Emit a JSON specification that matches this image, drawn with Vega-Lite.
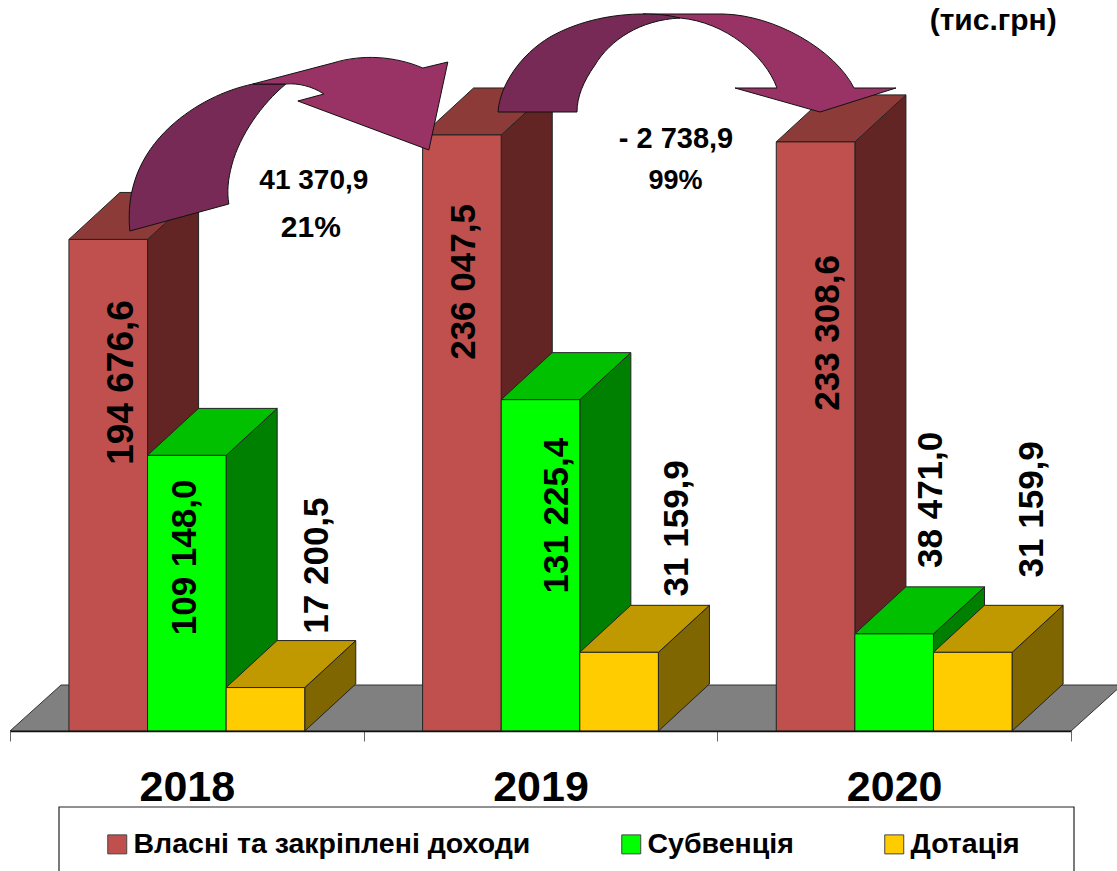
{
"$schema":"https://vega.github.io/schema/vega-lite/v6.json",
"width":1061,"height":731,
"autosize":{"type":"none"},
"padding":{"left":10,"top":0,"right":46,"bottom":140},
"background":"white",
"view":{"stroke":null},
"config":{"font":"Liberation Sans"},
"data":{"values":[
{"year":"2018","series":"Власні та закріплені доходи","value":194676.6,"label":"194 676,6"},
{"year":"2018","series":"Субвенція","value":109148.0,"label":"109 148,0"},
{"year":"2018","series":"Дотація","value":17200.5,"label":"17 200,5"},
{"year":"2019","series":"Власні та закріплені доходи","value":236047.5,"label":"236 047,5"},
{"year":"2019","series":"Субвенція","value":131225.4,"label":"131 225,4"},
{"year":"2019","series":"Дотація","value":31159.9,"label":"31 159,9"},
{"year":"2020","series":"Власні та закріплені доходи","value":233308.6,"label":"233 308,6"},
{"year":"2020","series":"Субвенція","value":38471.0,"label":"38 471,0"},
{"year":"2020","series":"Дотація","value":31159.9,"label":"31 159,9"}
]},
"encoding":{
"x":{"field":"year","type":"nominal","title":null,"sort":["2018","2019","2020"],
 "scale":{"domain":["2018","2019","2020"],"paddingInner":0,"paddingOuter":0,"round":false},
 "axis":{"title":null,"orient":"bottom","zindex":1,"domainColor":"#111111","domainWidth":1.5,"tickBand":"extent","tickSize":10,"tickColor":"#666666","tickWidth":1,"labelAngle":0,"labelFont":"Liberation Sans","labelFontWeight":"bold","labelFontSize":43,"labelColor":"black","labelPadding":25}},
"y":{"field":"value","type":"quantitative","title":null,"axis":null,"scale":{"domain":[0,289505],"nice":false,"zero":false}}
},
"resolve":{"scale":{"fill":"independent"}},
"layer":[
{"data":{"values":[{"part":"floor","year":"2019","value":0}]},
 "mark":{"type":"point","filled":true,"opacity":1,"size":4,"fill":"#808080","stroke":"#333333","strokeWidth":1,"shape":"M-530.5,0 L530.5,0 L581.5,-46 L-479.5,-46 Z"}},
{"data":{"values":[{"part":"legend box","year":"2019","value":0}]},
 "mark":{"type":"point","filled":true,"opacity":1,"size":4,"fill":"white","stroke":"#222222","strokeWidth":1.2,"shape":"M-481.5,76 L533.5,76 L533.5,160 L-481.5,160 Z"}},
{"transform":[{"calculate":"'M39.35,0 L90.35,-47 L90.35,'+(datum.value*0.002525-47)+' L39.35,'+(datum.value*0.002525)+' Z'","as":"sidePath"}],
 "mark":{"type":"point","filled":true,"opacity":1,"size":4,"stroke":"#222222","strokeWidth":1},
 "encoding":{"xOffset":{"field":"series","type":"nominal","sort":["Власні та закріплені доходи","Субвенція","Дотація"],"scale":{"domain":["Власні та закріплені доходи","Субвенція","Дотація"],"paddingInner":0,"paddingOuter":0.75,"round":false}},"shape":{"field":"sidePath","type":"nominal","scale":null,"legend":null},
 "fill":{"field":"series","type":"nominal","legend":null,"scale":{"domain":["Власні та закріплені доходи","Субвенція","Дотація"],"range":["#632523","#008000","#806600"]}}}},
{"mark":{"type":"point","filled":true,"opacity":1,"size":4,"stroke":"#222222","strokeWidth":1,"shape":"M-39.35,0 L39.35,0 L90.35,-47 L11.65,-47 Z"},
 "encoding":{"xOffset":{"field":"series","type":"nominal"},"fill":{"field":"series","type":"nominal","legend":null,"scale":{"domain":["Власні та закріплені доходи","Субвенція","Дотація"],"range":["#8C3B39","#00C000","#C09900"]}}}},
{"mark":{"type":"bar","stroke":"#222222","strokeWidth":1},
 "encoding":{"xOffset":{"field":"series","type":"nominal"},"color":{"field":"series","type":"nominal","sort":["Власні та закріплені доходи","Субвенція","Дотація"],
  "scale":{"domain":["Власні та закріплені доходи","Субвенція","Дотація"],"range":["#C0504D","#00FF00","#FFCC00"]},
  "legend":{"title":null,"orient":"none","legendX":93,"legendY":830,"direction":"horizontal","columns":3,"columnPadding":86,"padding":0,"symbolType":"square","symbolSize":360,"symbolStrokeColor":"#444444","symbolStrokeWidth":1,"symbolOpacity":1,"labelFont":"Liberation Sans","labelFontWeight":"bold","labelFontSize":28.5,"labelColor":"black","labelOffset":2,"labelLimit":600}}}},
{"data":{"values":[{"part":"arrow 2018-2019 tail","year":"2018","value":200000}]},
 "mark":{"type":"point","filled":true,"opacity":1,"size":4,"fill":"#772A55","stroke":"#111111","strokeWidth":1,"shape":"M-57,5 C-61,-36 -47,-71 -17,-99 C8,-122 38,-136 66,-142 L99,-142 C75,-122 53,-91 45,-61 C41,-46 40,-34 42,-22 Z"}},
{"data":{"values":[{"part":"arrow 2018-2019 head","year":"2018","value":200000}]},
 "mark":{"type":"point","filled":true,"opacity":1,"size":4,"fill":"#993366","stroke":"#111111","strokeWidth":1,"shape":"M66,-142 L146,-163 C175,-172 208,-170 236,-158 L261,-164 L242,-76 L111,-125 L137,-132 C125,-140 111,-143 99,-142 Z"}},
{"data":{"values":[{"part":"arrow 2019-2020 head","year":"2019","value":280000}]},
 "mark":{"type":"point","filled":true,"opacity":1,"size":4,"fill":"#993366","stroke":"#111111","strokeWidth":1,"shape":"M102.5,-10 L182.5,-10 C234.5,-9 294.5,26 313.5,64 L355.5,64 L279.5,88 L194.5,64 L236.5,64 C224.5,31 184.5,-2 139.5,-6 Z"}},
{"data":{"values":[{"part":"arrow 2019-2020 tail","year":"2019","value":280000}]},
 "mark":{"type":"point","filled":true,"opacity":1,"size":4,"fill":"#772A55","stroke":"#111111","strokeWidth":1,"shape":"M-42.5,88 C-40.5,61 -20.5,31 9.5,13 C39.5,-4 74.5,-10 102.5,-10 C117.5,-10 127.5,-9 139.5,-6 C99.5,-4 69.5,16 54.5,41 C42.5,58 36.5,73 36.5,88 Z"}},
{"transform":[{"filter":"datum.label=='194 676,6'"}],"mark":{"type":"text","angle":270,"font":"Liberation Sans","fontWeight":"bold","fontSize":37,"align":"center","baseline":"middle","dx":-143,"dy":14},"encoding":{"xOffset":{"field":"series","type":"nominal"},"text":{"field":"label"}}},
{"transform":[{"filter":"datum.label=='109 148,0'"}],"mark":{"type":"text","angle":270,"font":"Liberation Sans","fontWeight":"bold","fontSize":35,"align":"center","baseline":"middle","dx":-102,"dy":-2},"encoding":{"xOffset":{"field":"series","type":"nominal"},"text":{"field":"label"}}},
{"transform":[{"filter":"datum.label=='17 200,5'"}],"mark":{"type":"text","angle":270,"font":"Liberation Sans","fontWeight":"bold","fontSize":35,"align":"center","baseline":"middle","dx":122,"dy":52},"encoding":{"xOffset":{"field":"series","type":"nominal"},"text":{"field":"label"}}},
{"transform":[{"filter":"datum.label=='236 047,5'"}],"mark":{"type":"text","angle":270,"font":"Liberation Sans","fontWeight":"bold","fontSize":35,"align":"center","baseline":"middle","dx":-147,"dy":2},"encoding":{"xOffset":{"field":"series","type":"nominal"},"text":{"field":"label"}}},
{"transform":[{"filter":"datum.label=='131 225,4'"}],"mark":{"type":"text","angle":270,"font":"Liberation Sans","fontWeight":"bold","fontSize":35,"align":"center","baseline":"middle","dx":-116,"dy":16},"encoding":{"xOffset":{"field":"series","type":"nominal"},"text":{"field":"label"}}},
{"transform":[{"filter":"datum.label=='31 159,9' && datum.year=='2019'"}],"mark":{"type":"text","angle":270,"font":"Liberation Sans","fontWeight":"bold","fontSize":35,"align":"center","baseline":"middle","dx":124,"dy":58},"encoding":{"xOffset":{"field":"series","type":"nominal"},"text":{"field":"label"}}},
{"transform":[{"filter":"datum.label=='233 308,6'"}],"mark":{"type":"text","angle":270,"font":"Liberation Sans","fontWeight":"bold","fontSize":35,"align":"center","baseline":"middle","dx":-191,"dy":12},"encoding":{"xOffset":{"field":"series","type":"nominal"},"text":{"field":"label"}}},
{"transform":[{"filter":"datum.label=='38 471,0'"}],"mark":{"type":"text","angle":270,"font":"Liberation Sans","fontWeight":"bold","fontSize":35,"align":"center","baseline":"middle","dx":134,"dy":37},"encoding":{"xOffset":{"field":"series","type":"nominal"},"text":{"field":"label"}}},
{"transform":[{"filter":"datum.label=='31 159,9' && datum.year=='2020'"}],"mark":{"type":"text","angle":270,"font":"Liberation Sans","fontWeight":"bold","fontSize":35,"align":"center","baseline":"middle","dx":143,"dy":59},"encoding":{"xOffset":{"field":"series","type":"nominal"},"text":{"field":"label"}}},
{"data":{"values":[{"label":"41 370,9","year":"2018","value":217822}]},"mark":{"type":"text","font":"Liberation Sans","fontWeight":"bold","fontSize":28,"align":"center","baseline":"middle","dx":127},"encoding":{"text":{"field":"label"}}},
{"data":{"values":[{"label":"21%","year":"2018","value":199208}]},"mark":{"type":"text","font":"Liberation Sans","fontWeight":"bold","fontSize":30,"align":"center","baseline":"middle","dx":124},"encoding":{"text":{"field":"label"}}},
{"data":{"values":[{"label":"- 2 738,9","year":"2019","value":234455}]},"mark":{"type":"text","font":"Liberation Sans","fontWeight":"bold","fontSize":29,"align":"center","baseline":"middle","dx":135.5},"encoding":{"text":{"field":"label"}}},
{"data":{"values":[{"label":"99%","year":"2019","value":217822}]},"mark":{"type":"text","font":"Liberation Sans","fontWeight":"bold","fontSize":27,"align":"center","baseline":"middle","dx":135},"encoding":{"text":{"field":"label"}}},
{"data":{"values":[{"label":"(тис.грн)","year":"2020","value":281188}]},"mark":{"type":"text","font":"Liberation Sans","fontWeight":"bold","fontSize":30,"align":"center","baseline":"middle","dx":99},"encoding":{"text":{"field":"label"}}}
]
}
